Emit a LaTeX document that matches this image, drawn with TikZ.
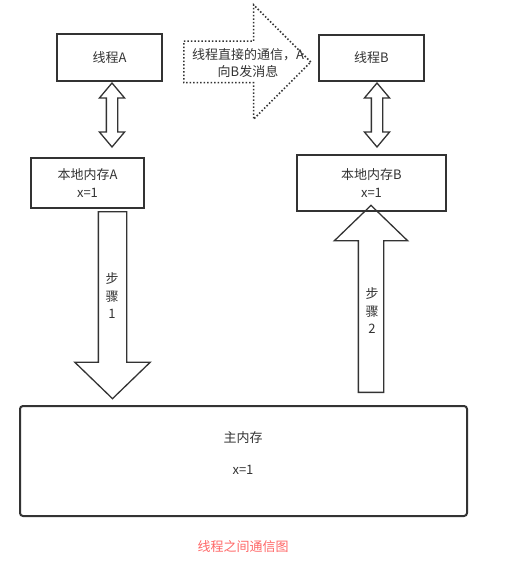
\documentclass[tikz,border=0pt]{standalone}
\usepackage{fontspec}
\setmainfont{Noto Sans CJK SC}
\usetikzlibrary{shapes.arrows}

\definecolor{ink}{HTML}{333333}
\definecolor{capred}{HTML}{FF6666}

\begin{document}
\begin{tikzpicture}[x=1pt, y=-1pt, line width=1.3pt, draw=ink, text=ink,
        font=\fontsize{13}{17.5}\selectfont,
        box/.style = {draw, inner sep=0pt},
        bothway/.style = {draw, double arrow, inner sep=5pt, double arrow head extend=7pt,
            double arrow tip angle=80, shape border rotate=90},
        stepline/.style = {draw, single arrow, anchor=tail, minimum height=187pt, single arrow tip angle=92}]
        \useasboundingbox (0,0) rectangle (509,575);
        % threads and their local memory
        \node[box, minimum width=105pt, minimum height=47pt] (ta) at (109.5,57.5) {线程A};
        \node[box, minimum width=105pt, minimum height=46pt] (tb) at (371.5,58) {线程B};
        \node[box, minimum width=113pt, minimum height=50pt, align=center] (la) at (87.5,183) {本地内存A\\x=1};
        \node[box, minimum width=149pt, minimum height=56pt, align=center] (lb) at (371.5,183) {本地内存B\\x=1};
        \node[box, line width=2pt, rounded corners=3pt, minimum width=447pt, minimum height=110pt] (mm) at (243.5,461) {};
        \node (mmname) at (243,438) {主内存};
        \node (mmval) at (243,470) {x=1};
        % thread <-> local memory
        \node[bothway, minimum height=64pt] (ab) at (112,115) {};
        \node[bothway, minimum height=64pt] (bb) at (377,115) {};
        % direct message A -> B
        \node[draw, single arrow, anchor=tail, dotted, line width=1.5pt, inner sep=20pt, minimum height=127pt,
            single arrow head extend=36.5pt] (msg) at (183,62) {};
        \node[align=center] (msgtext) at (248,63) {线程直接的通信，A\\向B发消息};
        % steps through main memory
        \node[stepline, inner sep=13.5pt, single arrow head extend=23.5pt, shape border rotate=270] (s1) at (112.5,211) {};
        \node[align=center] (s1text) at (112,296) {步\\骤\\1};
        \node[stepline, inner sep=12pt, single arrow head extend=24pt, shape border rotate=90] (s2) at (371,393) {};
        \node[align=center] (s2text) at (372,311) {步\\骤\\2};
        \node[text=capred] (cap) at (243,547) {线程之间通信图};
    \end{tikzpicture}
\end{document}
